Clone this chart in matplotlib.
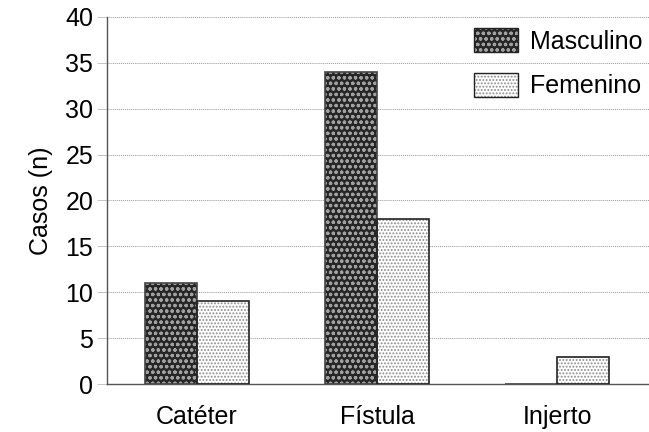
import matplotlib.pyplot as plt
import numpy as np
from matplotlib.patches import Patch
from matplotlib.legend_handler import HandlerTuple

# data
categorias = ['Catéter', 'Fístula', 'Injerto']
masculino = [11, 34, 0]
femenino = [9, 18, 3]
series = ['Masculino', 'Femenino']

plt.rcParams['font.family'] = ['Liberation Sans', 'DejaVu Sans']
plt.rcParams['hatch.linewidth'] = 0.9

fig = plt.figure(figsize=(6.49, 4.32), dpi=100)
ax = fig.add_axes([0.165, 0.111, 0.835, 0.850])

x = np.arange(len(categorias))
w = 0.29

m_style = dict(facecolor='#262626', edgecolor='#a0a0a0', hatch='ooo', linewidth=0)
f_style = dict(facecolor='white', edgecolor='#8a8a8a', hatch='.....', linewidth=0)

# masculino: dark fill with light hatch
ax.bar(x - w / 2, masculino, w, zorder=2, **m_style)
ax.bar(x - w / 2, masculino, w, fill=False, edgecolor='#444444', linewidth=1.2, zorder=3)
# femenino: white fill with gray dots
ax.bar(x + w / 2, femenino, w, zorder=2, **f_style)
ax.bar(x + w / 2, femenino, w, fill=False, edgecolor='#222222', linewidth=1.2, zorder=3)

ax.set_xlim(-0.5, 2.51)
ax.set_ylim(0, 40)
ax.set_yticks(range(0, 41, 5))
ax.set_xticks(x)
ax.set_xticklabels(categorias, fontsize=18)
ax.tick_params(axis='y', labelsize=18, length=7, width=0.6, color='#bbbbbb', pad=3)
ax.tick_params(axis='x', length=0, pad=15)
ax.set_ylabel('Casos (n)', fontsize=18, labelpad=9)

ax.yaxis.grid(True, linestyle=(0, (1, 1)), color='#999999', linewidth=0.7, zorder=0)
ax.set_axisbelow(True)
for s in ['top', 'right']:
    ax.spines[s].set_visible(False)
for s in ['left', 'bottom']:
    ax.spines[s].set_color('#555555')
    ax.spines[s].set_linewidth(1.0)

outline = dict(fill=False, edgecolor='#222222', linewidth=1.0)
h1 = (Patch(**m_style), Patch(**outline))
h2 = (Patch(**f_style), Patch(**outline))
ax.legend([h1, h2], series, loc='upper right', frameon=False, fontsize=18,
          handler_map={tuple: HandlerTuple(ndivide=1, pad=0)},
          handlelength=1.75, handleheight=1.1, labelspacing=0.75,
          handletextpad=0.5, bbox_to_anchor=(1.03, 1.03))

fig.savefig('out.png', dpi=100)
